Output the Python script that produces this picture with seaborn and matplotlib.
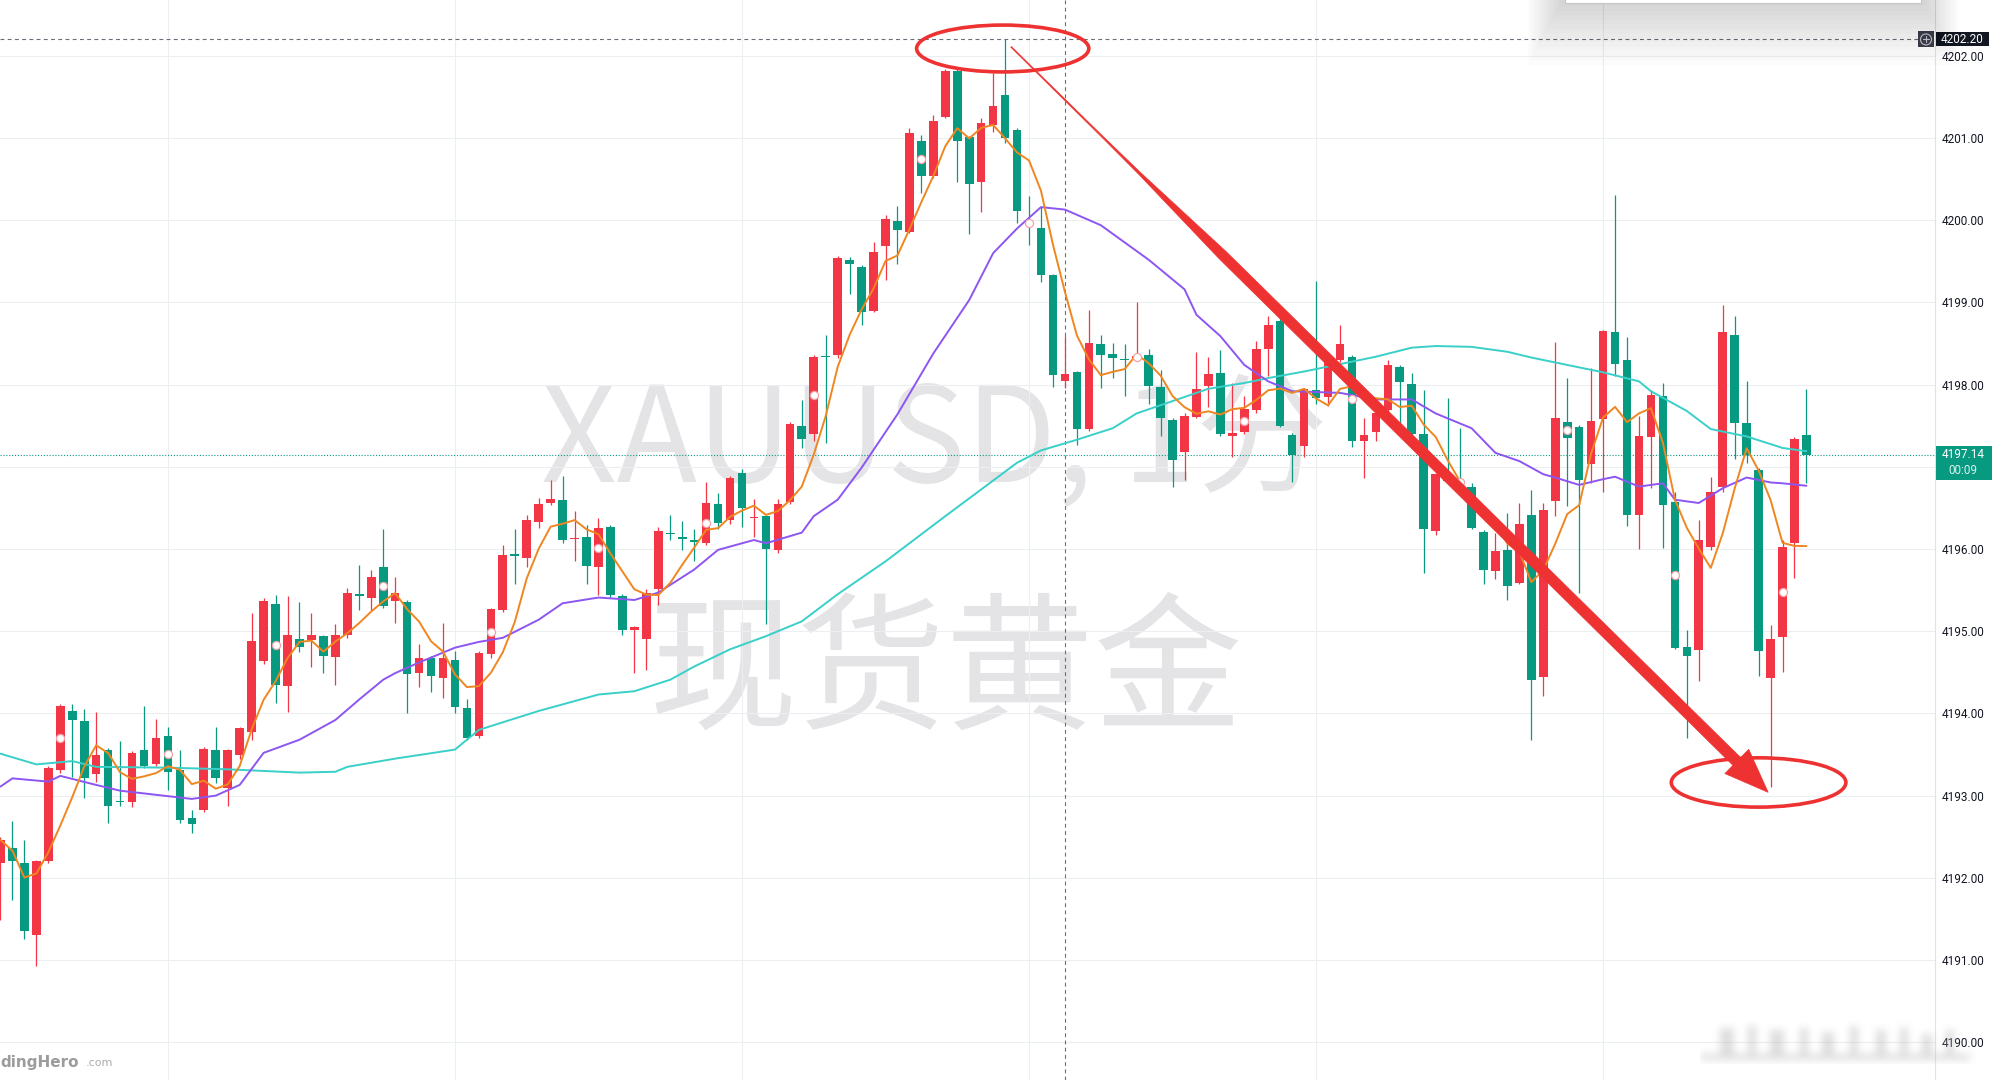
import numpy as np
import pandas as pd
import matplotlib
matplotlib.use("Agg")
import matplotlib.pyplot as plt
import matplotlib.transforms as mtransforms
from matplotlib.patches import Ellipse, Rectangle, Polygon, Circle
import seaborn as sns

# XAUUSD 1-minute candles (left to right)
opens = [4192.18, 4192.36, 4192.18, 4191.30, 4192.21, 4193.31, 4194.03, 4193.91, 4193.26, 4193.56,
         4192.93, 4192.92, 4193.56, 4193.38, 4193.73, 4193.31, 4192.73, 4192.82, 4193.56, 4193.09,
         4193.50, 4193.78, 4194.64, 4195.33, 4194.33, 4194.91, 4194.89, 4194.94, 4194.69, 4194.95,
         4195.45, 4195.40, 4195.78, 4195.37, 4195.36, 4194.49, 4194.68, 4194.43, 4194.65, 4194.06,
         4193.72, 4194.72, 4195.26, 4195.93, 4195.89, 4196.33, 4196.56, 4196.60, 4196.12, 4196.15,
         4195.78, 4196.27, 4195.43, 4195.02, 4194.90, 4195.51, 4196.19, 4196.15, 4196.10, 4196.07,
         4196.55, 4196.35, 4196.93, 4196.38, 4196.40, 4195.99, 4196.57, 4197.50, 4197.40, 4198.35,
         4198.36, 4199.52, 4199.43, 4198.90, 4199.69, 4199.99, 4199.86, 4200.96, 4200.54, 4201.26,
         4201.82, 4201.01, 4200.47, 4201.16, 4201.52, 4201.10, 4199.98, 4199.90, 4199.33, 4198.05,
         4198.15, 4197.46, 4198.49, 4198.37, 4198.31, 4198.33, 4198.36, 4197.97, 4197.57, 4197.18,
         4197.61, 4197.98, 4198.14, 4197.37, 4197.42, 4197.69, 4198.43, 4198.78, 4197.39, 4197.25,
         4197.94, 4197.85, 4198.30, 4198.34, 4197.32, 4197.42, 4197.69, 4198.22, 4198.01, 4197.40,
         4196.22, 4196.87, 4196.84, 4196.75, 4196.21, 4195.73, 4195.99, 4195.59, 4196.42, 4194.44,
         4196.58, 4197.55, 4197.49, 4197.03, 4197.58, 4198.64, 4198.30, 4196.42, 4197.36, 4197.86,
         4196.57, 4194.81, 4194.77, 4196.03, 4196.76, 4198.60, 4197.53, 4196.96, 4194.43, 4194.93,
         4196.07, 4197.39]
highs = [4192.50, 4192.69, 4192.46, 4192.22, 4193.36, 4194.12, 4194.12, 4194.05, 4194.02, 4193.58,
         4193.66, 4193.54, 4194.09, 4193.93, 4193.84, 4193.56, 4192.83, 4193.59, 4193.84, 4193.57,
         4193.84, 4195.22, 4195.40, 4195.44, 4195.43, 4195.35, 4195.22, 4194.96, 4195.09, 4195.53,
         4195.81, 4195.75, 4196.24, 4195.66, 4195.38, 4194.84, 4194.70, 4195.10, 4194.76, 4194.17,
         4194.76, 4195.28, 4196.05, 4196.24, 4196.42, 4196.62, 4196.84, 4196.89, 4196.46, 4196.29,
         4196.38, 4196.29, 4195.45, 4195.06, 4195.51, 4196.27, 4196.42, 4196.34, 4196.24, 4196.82,
         4196.68, 4196.89, 4196.97, 4196.61, 4196.42, 4196.61, 4197.54, 4197.81, 4198.36, 4198.60,
         4199.56, 4199.55, 4199.45, 4199.73, 4200.06, 4200.17, 4201.12, 4201.04, 4201.28, 4201.84,
         4201.84, 4201.03, 4201.24, 4201.79, 4202.20, 4201.12, 4200.29, 4200.16, 4199.35, 4198.59,
         4198.17, 4198.91, 4198.60, 4198.51, 4198.49, 4199.01, 4198.43, 4198.18, 4197.59, 4197.65,
         4198.40, 4198.34, 4198.42, 4198.02, 4197.86, 4198.53, 4198.84, 4198.86, 4197.41, 4197.96,
         4199.26, 4198.32, 4198.73, 4198.36, 4197.59, 4197.68, 4198.30, 4198.24, 4198.14, 4197.94,
         4196.93, 4197.84, 4197.47, 4196.80, 4196.23, 4196.20, 4196.44, 4196.56, 4196.72, 4196.56,
         4198.52, 4198.08, 4197.51, 4198.20, 4198.67, 4200.31, 4198.58, 4197.62, 4197.94, 4198.02,
         4196.70, 4195.02, 4196.35, 4196.88, 4198.97, 4198.83, 4198.04, 4196.98, 4195.07, 4196.11,
         4197.36, 4197.95]
lows = [4191.49, 4191.73, 4191.25, 4190.93, 4192.18, 4193.28, 4193.23, 4192.97, 4193.17, 4192.67,
        4192.87, 4192.86, 4193.34, 4193.36, 4193.07, 4192.67, 4192.54, 4192.80, 4193.15, 4192.87,
        4193.45, 4193.68, 4194.60, 4194.13, 4194.02, 4194.75, 4194.57, 4194.49, 4194.35, 4194.92,
        4195.26, 4195.26, 4195.28, 4195.10, 4194.01, 4194.32, 4194.26, 4194.19, 4194.01, 4193.68,
        4193.70, 4194.68, 4195.24, 4195.57, 4195.78, 4196.25, 4196.54, 4196.07, 4195.86, 4195.58,
        4195.44, 4195.41, 4194.96, 4194.49, 4194.53, 4195.32, 4196.11, 4195.99, 4195.86, 4196.05,
        4196.24, 4196.30, 4196.27, 4196.15, 4195.09, 4195.95, 4196.55, 4197.23, 4197.31, 4197.29,
        4198.33, 4199.10, 4198.73, 4198.88, 4199.27, 4199.47, 4199.84, 4200.33, 4200.52, 4201.24,
        4200.47, 4199.83, 4200.10, 4201.07, 4200.94, 4199.97, 4199.70, 4199.25, 4197.97, 4197.96,
        4197.27, 4197.44, 4197.96, 4198.08, 4197.86, 4198.30, 4197.76, 4197.38, 4196.76, 4196.84,
        4197.59, 4197.73, 4197.38, 4197.12, 4197.40, 4197.65, 4198.10, 4197.48, 4196.81, 4197.12,
        4197.76, 4197.74, 4198.28, 4197.24, 4196.86, 4197.32, 4197.67, 4197.47, 4197.38, 4195.71,
        4196.17, 4196.80, 4196.74, 4196.24, 4195.57, 4195.63, 4195.38, 4195.57, 4193.68, 4194.21,
        4196.40, 4196.52, 4195.47, 4196.80, 4196.70, 4198.10, 4196.28, 4196.00, 4196.74, 4196.01,
        4194.78, 4193.70, 4194.40, 4195.99, 4196.70, 4197.09, 4197.05, 4194.45, 4193.10, 4194.51,
        4195.65, 4196.80]
closes = [4192.46, 4192.20, 4191.35, 4192.20, 4193.34, 4194.09, 4193.92, 4193.21, 4193.50, 4192.87,
          4192.92, 4193.52, 4193.36, 4193.70, 4193.29, 4192.70, 4192.65, 4193.57, 4193.21, 4193.55,
          4193.82, 4194.88, 4195.37, 4194.34, 4194.95, 4194.81, 4194.96, 4194.70, 4194.95, 4195.46,
          4195.43, 4195.66, 4195.31, 4195.46, 4194.48, 4194.68, 4194.46, 4194.68, 4194.08, 4193.70,
          4194.74, 4195.27, 4195.93, 4195.92, 4196.35, 4196.55, 4196.61, 4196.11, 4196.14, 4195.79,
          4196.25, 4195.44, 4195.02, 4195.05, 4195.47, 4196.22, 4196.18, 4196.12, 4196.09, 4196.56,
          4196.32, 4196.87, 4196.50, 4196.39, 4196.00, 4196.55, 4197.52, 4197.34, 4198.34, 4198.34,
          4199.54, 4199.47, 4198.88, 4199.62, 4200.01, 4199.88, 4201.06, 4200.54, 4201.21, 4201.82,
          4200.97, 4200.44, 4201.18, 4201.39, 4201.00, 4200.11, 4199.96, 4199.33, 4198.12, 4198.13,
          4197.46, 4198.51, 4198.36, 4198.32, 4198.30, 4198.35, 4197.98, 4197.60, 4197.08, 4197.62,
          4197.95, 4198.13, 4197.40, 4197.41, 4197.70, 4198.43, 4198.72, 4197.50, 4197.15, 4197.95,
          4197.84, 4198.30, 4198.50, 4197.32, 4197.39, 4197.66, 4198.24, 4198.03, 4197.40, 4196.24,
          4196.91, 4196.83, 4196.78, 4196.26, 4195.75, 4195.98, 4195.55, 4196.30, 4194.41, 4196.47,
          4197.60, 4197.35, 4196.84, 4197.56, 4198.65, 4198.25, 4196.42, 4197.37, 4197.88, 4196.54,
          4194.80, 4194.70, 4196.11, 4196.70, 4198.64, 4197.53, 4197.15, 4194.76, 4194.91, 4196.03,
          4197.34, 4197.14]

# candles carrying the small hollow circle markers
marker_idx = [5, 14, 23, 32, 41, 50, 59, 68, 77, 86, 95, 104, 113, 122, 131, 140, 149]

# purple (mid) moving average
ma_mid_idx = [0, 1, 4, 5, 8, 10, 13, 16, 18, 20, 22, 25, 28, 30, 32, 33, 35, 38, 40, 42,
              45, 47, 50, 53, 55, 58, 60, 63, 64, 67, 68, 70, 72, 75, 78, 81, 83, 85, 86, 87,
              89, 92, 96, 99, 100, 102, 104, 106, 108, 112, 115, 118, 120, 123, 125, 127, 129, 130,
              132, 134, 135, 137, 139, 140, 142, 144, 146, 148, 149, 151]
ma_mid_val = [4193.11, 4193.21, 4193.17, 4193.24, 4193.13, 4193.06, 4193.01, 4192.96, 4193.00, 4193.13,
              4193.52, 4193.68, 4193.92, 4194.17, 4194.41, 4194.49, 4194.62, 4194.80, 4194.87, 4194.92,
              4195.14, 4195.34, 4195.41, 4195.38, 4195.47, 4195.75, 4195.99, 4196.11, 4196.07, 4196.20,
              4196.40, 4196.60, 4196.99, 4197.64, 4198.38, 4199.03, 4199.60, 4199.90, 4200.03, 4200.16,
              4200.13, 4199.94, 4199.52, 4199.16, 4198.85, 4198.59, 4198.24, 4198.04, 4197.92, 4197.90,
              4197.82, 4197.82, 4197.65, 4197.47, 4197.17, 4197.07, 4196.91, 4196.87,
              4196.78, 4196.85, 4196.88, 4196.76, 4196.80, 4196.60, 4196.56, 4196.74, 4196.87, 4196.81,
              4196.80, 4196.77]

# cyan (long) moving average
ma_long_idx = [0, 3, 6, 8, 14, 19, 25, 28, 29, 33, 38, 40, 45, 50, 53, 56, 58, 61, 64, 67,
               70, 74, 79, 85, 87, 90, 93, 95, 98, 101, 104, 106, 109, 112, 115, 118, 120, 123,
               126, 128, 131, 134, 137, 138, 141, 143, 146, 149, 151]
ma_long_val = [4193.51, 4193.38, 4193.42, 4193.35, 4193.34, 4193.32, 4193.28, 4193.29, 4193.35, 4193.45,
               4193.56, 4193.80, 4194.03, 4194.23, 4194.27, 4194.41, 4194.57, 4194.78, 4194.94, 4195.12,
               4195.45, 4195.85, 4196.40, 4197.05, 4197.20, 4197.33, 4197.47, 4197.65, 4197.80, 4197.95,
               4198.02, 4198.08, 4198.16, 4198.25, 4198.34, 4198.45, 4198.47, 4198.46,
               4198.40, 4198.33, 4198.24, 4198.15, 4198.04, 4197.92, 4197.68, 4197.46, 4197.37, 4197.23,
               4197.19]

price_ticks = [4190, 4191, 4192, 4193, 4194, 4195, 4196, 4197, 4198, 4199, 4200, 4201, 4202]
label_ticks = [4190, 4191, 4192, 4193, 4194, 4195, 4196, 4198, 4199, 4200, 4201, 4202]
time_grid_idx = [14, 38, 62, 86, 110, 134]
last_price = 4197.14
last_timer = "00:09"
cross_price = 4202.20
cross_idx = 89
peak_idx = 84
low_idx = 148

UP = "#f23645"
DOWN = "#089981"
ANN = "#ee3232"

df = pd.DataFrame({"open": opens, "high": highs, "low": lows, "close": closes})
df["idx"] = np.arange(len(df))
df["up"] = df["close"] >= df["open"]
df["ma5"] = df["close"].rolling(5, min_periods=1).mean()
df["mid"] = (df["open"] + df["close"]) / 2
mid_df = pd.DataFrame({"idx": ma_mid_idx, "val": ma_mid_val})
long_df = pd.DataFrame({"idx": ma_long_idx, "val": ma_long_val})

sns.set_theme(style="white")
plt.rcParams["font.family"] = ["Noto Sans CJK SC", "DejaVu Sans"]

W, H = 1992, 1080
fig = plt.figure(figsize=(W / 100, H / 100), dpi=100)
fig.patch.set_facecolor("white")
ax = fig.add_axes([0, 0, 1935 / W, 1])
ax.set_facecolor("white")
ax.set_xlim(-0.04, 161.75)
ax.set_ylim(4189.54, 4202.68)

# grid + price scale
ax.set_yticks(price_ticks)
ax.set_yticklabels([f"{v:.2f}" if v in label_ticks else "" for v in price_ticks])
ax.set_xticks(time_grid_idx)
ax.set_xticklabels([])
ax.grid(True, color="#eceef1", lw=0.8)
ax.set_axisbelow(True)
ax.yaxis.tick_right()
ax.tick_params(axis="y", length=0, pad=4.5, labelsize=8.5, labelcolor="#131722")
ax.tick_params(axis="x", length=0)
for lbl in ax.get_yticklabels():
    lbl.set_fontfamily("Roboto")
for s in ["top", "left", "bottom"]:
    ax.spines[s].set_visible(False)
ax.spines["right"].set_color("#e0e3eb")
ax.spines["right"].set_linewidth(0.8)

# watermark
ax.text(0.483, 0.589, "XAUUSD, 1分", transform=ax.transAxes, ha="center", va="center",
        fontsize=95, color="#e4e4e6", zorder=0.2)
ax.text(0.489, 0.375, "现货黄金", transform=ax.transAxes, ha="center", va="center",
        fontsize=107, color="#e4e4e6", zorder=0.2)

# crosshair and last price line
ax.axhline(cross_price, color="#6b6e78", lw=0.8, dashes=(3.5, 3), zorder=2)
ax.axvline(cross_idx, color="#6b6e78", lw=0.8, dashes=(3.5, 3), zorder=2)
ax.axhline(last_price, color=DOWN, lw=0.8, ls=(0, (1, 1.6)), zorder=2)

# candles
colors = np.where(df["up"], UP, DOWN)
ax.vlines(df["idx"], df["low"], df["high"], colors=colors, lw=0.9, zorder=3)
body_h = np.maximum((df["close"] - df["open"]).abs(), 0.014)
ax.bar(df["idx"], body_h, bottom=np.minimum(df["open"], df["close"]), width=0.72,
       color=colors, lw=0, zorder=3)

# moving averages
sns.lineplot(data=long_df, x="idx", y="val", color="#38d0c8", lw=1.4, ax=ax, zorder=4)
sns.lineplot(data=mid_df, x="idx", y="val", color="#8d55f2", lw=1.4, ax=ax, zorder=4)
sns.lineplot(data=df, x="idx", y="ma5", color="#f0861f", lw=1.4, ax=ax, zorder=4)
ax.set_xlabel("")
ax.set_ylabel("")

mk = df.loc[marker_idx]
ax.scatter(mk["idx"], mk["mid"], s=34, facecolor="white", edgecolor="#f3a3a8", lw=0.9, zorder=5)

# hand-drawn annotations: two ellipses and the arrow from the high to the low
ax.add_patch(Ellipse((peak_idx - 0.2, highs[peak_idx] - 0.11), 14.4, 0.57, fill=False,
                     ec=ANN, lw=2.6, zorder=7))
ax.add_patch(Ellipse((low_idx - 1.0, lows[low_idx] + 0.06), 14.6, 0.60, fill=False,
                     ec=ANN, lw=2.6, zorder=7))

ident = mtransforms.IdentityTransform()
S = ax.transData.transform((peak_idx + 0.5, highs[peak_idx] - 0.09))
T = ax.transData.transform((low_idx - 0.2, lows[low_idx] - 0.06))
d = T - S
L = np.hypot(*d)
u = d / L
n = np.array([-u[1], u[0]])
head_len, head_half = 44.0, 17.0
ts = np.linspace(0, 1 - head_len / L, 80)
ws = np.interp(ts, [0, 0.12, 0.17, 0.28, 1], [0.9, 1.4, 2.5, 10.0, 11.0])
left = [S + u * t * L + n * w / 2 for t, w in zip(ts, ws)]
right = [S + u * t * L - n * w / 2 for t, w in zip(ts, ws)]
base = S + u * (L - head_len)
pts = left + [base + n * head_half, T, base - n * head_half] + right[::-1]
fig.add_artist(Polygon(np.array(pts), closed=True, fc=ANN, ec=ANN, lw=0.5,
                       transform=ident, zorder=8))


def ypx(p):
    return ax.transData.transform((0, p))[1]


# price scale tags
yc = ypx(cross_price)
fig.add_artist(Rectangle((1936, yc - 7), 53, 14, fc="#131722", ec="none", transform=ident, zorder=9))
fig.text(1962.5, yc, f"{cross_price:.2f}", transform=ident, ha="center", va="center",
         color="white", fontsize=8.5, family="Roboto", zorder=10)
fig.add_artist(Rectangle((1918, yc - 8), 16, 16, fc="#3d404b", ec="none", transform=ident, zorder=9))
fig.add_artist(Circle((1926, yc), 5.5, fc="none", ec="#c9ccd4", lw=0.8, transform=ident, zorder=10))
fig.add_artist(plt.Line2D([1923, 1929], [yc, yc], color="#c9ccd4", lw=0.8, transform=ident, zorder=10))
fig.add_artist(plt.Line2D([1926, 1926], [yc - 3, yc + 3], color="#c9ccd4", lw=0.8, transform=ident, zorder=10))

yl = ypx(last_price)
fig.add_artist(Rectangle((1936, yl - 25), 56, 34, fc=DOWN, ec="none", transform=ident, zorder=9))
fig.text(1963, yl + 0.5, f"{last_price:.2f}", transform=ident, ha="center", va="center",
         color="white", fontsize=8.5, family="Roboto", zorder=10)
fig.text(1963, yl - 15, last_timer, transform=ident, ha="center", va="center",
         color="#d8f3ee", fontsize=8.5, family="Roboto", zorder=10)

# popup card edge with soft shadow at the top right
for k in range(14):
    fig.add_artist(Rectangle((1560 - k * 2.5, H - 6 - k * 4.5), 366 + k * 5, 20 + k * 4.5,
                             fc="black", ec="none", alpha=0.012, transform=ident, zorder=11))
fig.add_artist(Rectangle((1565, H - 3), 356, 12, fc="white", ec="#c4c6cc", lw=0.8,
                         transform=ident, zorder=12))

# blurred toolbar remnant at the bottom right
bw, bh = 290, 44
img = np.zeros((bh, bw))
for x0, x1, y0, y1 in [(20, 34, 8, 40), (48, 56, 6, 40), (70, 84, 10, 40), (100, 108, 8, 40),
                       (122, 134, 12, 40), (150, 158, 6, 40), (176, 186, 10, 40), (200, 208, 8, 40),
                       (222, 232, 14, 40), (246, 254, 10, 40), (0, 270, 34, 40)]:
    img[y0:y1, x0:x1] = 1.0
kern = np.ones(9) / 9
for _ in range(2):
    img = np.apply_along_axis(lambda r: np.convolve(r, kern, mode="same"), 1, img)
    img = np.apply_along_axis(lambda c: np.convolve(c, kern, mode="same"), 0, img)
rgba = np.zeros((bh, bw, 4))
rgba[..., :3] = 0.72
rgba[..., 3] = img * 0.45
fig.figimage(rgba, xo=1700, yo=16, origin="upper", zorder=12)

# site watermark, bottom left
fig.text(0, H - 1062, "dingHero", transform=ident, ha="left", va="center", color="#9c9c9c",
         fontsize=11, fontweight="bold", family="DejaVu Sans", zorder=12)
fig.text(86, H - 1063, ".com", transform=ident, ha="left", va="center", color="#ababab",
         fontsize=8, family="DejaVu Sans", zorder=12)

fig.savefig("out.png", dpi=100, facecolor="white")
